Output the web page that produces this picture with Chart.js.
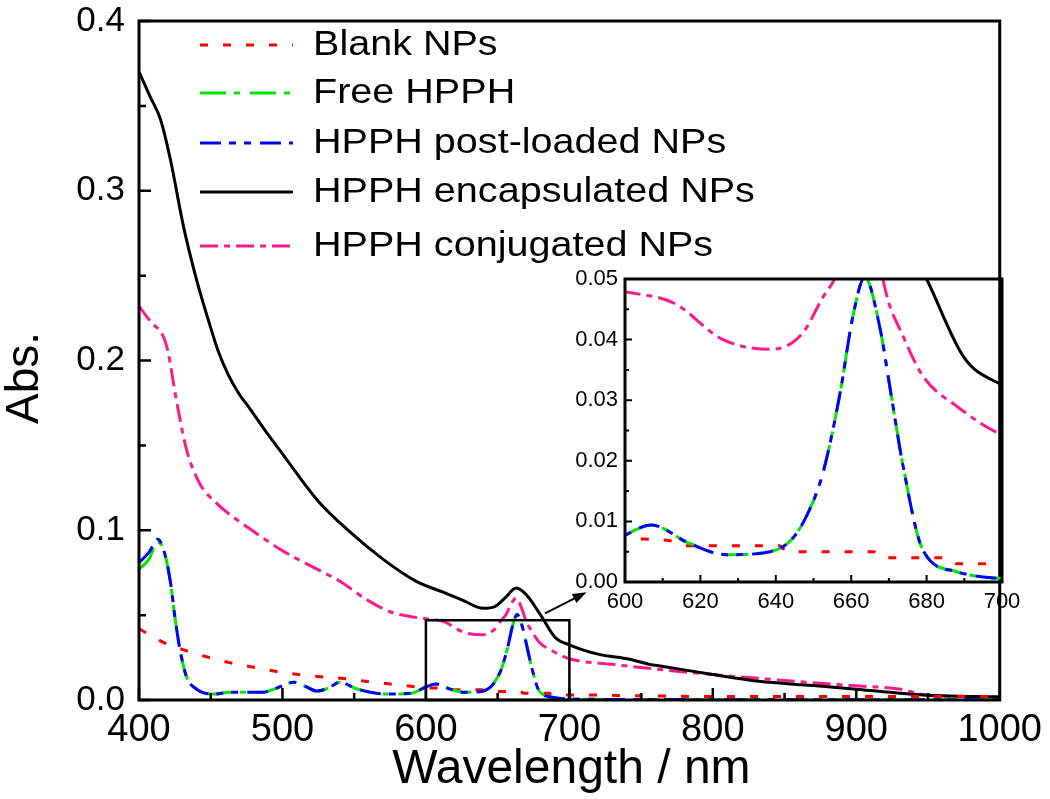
<!DOCTYPE html>
<html>
<head>
<meta charset="utf-8">
<script src="https://cdn.jsdelivr.net/npm/chart.js@4.4.0/dist/chart.umd.min.js"></script>
<style>
  body { margin: 0; background: #fff; }
  #wrap { position: relative; width: 1050px; height: 799px; }
  #mainChart { position: absolute; left: 0; top: 0; }
  #insetChart { position: absolute; left: 560px; top: 250px; }
</style>
</head>
<body>
<div id="wrap">
  <canvas id="mainChart" width="1050" height="799"></canvas>
  <canvas id="insetChart" width="490" height="380"></canvas>
</div>
<script>
// values (wavelength in nm, absorbance)
const blankX = [400, 417, 433, 449, 463, 482, 498, 514, 545, 563, 580, 600, 612, 616, 641, 643, 666, 668, 686, 688, 700, 750, 800, 900, 1000];
const blankY = [0.042, 0.034, 0.029, 0.025, 0.022, 0.019, 0.0165, 0.0147, 0.0124, 0.0105, 0.009, 0.0072, 0.0068, 0.006, 0.006, 0.005, 0.005, 0.004, 0.004, 0.003, 0.003, 0.0025, 0.002, 0.002, 0.002];

const hpphX = [400, 407, 413, 417, 422, 425, 428.5, 433, 440, 452, 463, 486, 496, 508, 516, 524, 532, 540, 552, 573, 590, 600, 607, 617, 627, 638.5, 644, 648, 652.5, 657, 660.5, 663.6, 667.6, 670.3, 673.8, 679, 688, 700, 750, 800, 900, 1000];
const freeY = [0.077, 0.083, 0.093, 0.089, 0.069, 0.049, 0.030, 0.014, 0.0065, 0.0035, 0.0045, 0.0045, 0.007, 0.0105, 0.008, 0.0053, 0.007, 0.0105, 0.0065, 0.0035, 0.004, 0.0077, 0.0094, 0.0064, 0.0045, 0.005, 0.0069, 0.0107, 0.018, 0.031, 0.044, 0.0503, 0.042, 0.032, 0.019, 0.0053, 0.0017, 0.0006, 0.0003, 0.0002, 0.0002, 0.0002];
const postY = [0.081, 0.087, 0.0947, 0.089, 0.069, 0.049, 0.030, 0.014, 0.0065, 0.0035, 0.0045, 0.0045, 0.007, 0.0105, 0.008, 0.0053, 0.007, 0.0105, 0.0065, 0.0035, 0.004, 0.0077, 0.0094, 0.0064, 0.0045, 0.005, 0.0069, 0.0107, 0.018, 0.031, 0.044, 0.0503, 0.042, 0.032, 0.019, 0.0053, 0.0017, 0.0006, 0.0003, 0.0002, 0.0002, 0.0002];

const encapX = [400, 408, 415, 422, 431, 440, 449, 455, 462, 470, 477, 489, 500, 524, 547, 570, 593, 612, 625, 640, 648, 655, 663, 670, 680, 690, 700, 720, 742, 756, 760, 800, 832, 870, 902, 930, 950, 1000];
const encapY = [0.370, 0.355, 0.342, 0.318, 0.279, 0.248, 0.222, 0.206, 0.192, 0.180, 0.172, 0.1575, 0.145, 0.118, 0.099, 0.083, 0.070, 0.0635, 0.059, 0.054, 0.055, 0.060, 0.066, 0.062, 0.050, 0.037, 0.0325, 0.027, 0.024, 0.021, 0.0205, 0.015, 0.011, 0.0085, 0.0062, 0.004, 0.0028, 0.0018];

const conjX = [400, 408, 417, 420, 426, 433, 442, 454, 477, 500, 522, 540, 559, 575, 590, 600, 613, 626, 639, 647, 652.5, 656, 659, 663, 667, 670, 673, 679, 688, 700, 730, 763, 800, 837, 870, 902, 930, 950, 1000];
const conjY = [0.232, 0.223, 0.214, 0.206, 0.177, 0.148, 0.128, 0.116, 0.101, 0.088, 0.078, 0.070, 0.059, 0.052, 0.049, 0.0479, 0.046, 0.040, 0.0384, 0.041, 0.047, 0.0505, 0.056, 0.060, 0.0535, 0.046, 0.0416, 0.034, 0.029, 0.0243, 0.021, 0.018, 0.015, 0.0124, 0.0101, 0.0082, 0.0065, 0.0028, 0.0018];

const seriesNames = ['Blank NPs', 'Free HPPH', 'HPPH post-loaded NPs', 'HPPH encapsulated NPs', 'HPPH conjugated NPs'];
const seriesColors = ['#ff0000', '#00e600', '#0000ff', '#000000', '#ff1a8c'];
const seriesDash = [[8, 15], [26, 8, 6, 10], [21, 8, 7, 8, 7, 9], [], [18, 6, 6, 6]];

const mainXTicks = [400, 500, 600, 700, 800, 900, 1000];
const mainYTicks = [0, 0.1, 0.2, 0.3, 0.4];
const insetXTicks = [600, 620, 640, 660, 680, 700];
const insetYTicks = [0, 0.01, 0.02, 0.03, 0.04, 0.05];

const FONT = '"Liberation Sans", Arial, sans-serif';

function points(xs, ys) {
    return xs.map((x, i) => ({ x: x, y: ys[i] }));
}

function makeDatasets() {
    const pairs = [[blankX, blankY], [hpphX, freeY], [hpphX, postY], [encapX, encapY], [conjX, conjY]];
    return pairs.map((p, i) => ({
        label: seriesNames[i],
        data: points(p[0], p[1]),
        borderColor: seriesColors[i],
        borderWidth: 3,
        borderDash: seriesDash[i],
        pointRadius: 0,
        fill: false,
        cubicInterpolationMode: 'monotone',
        order: i == 2 ? 0 : (i == 1 ? 1 : 2)
    }));
}

// box + inward ticks (major and minor) on left and bottom
const framePlugin = {
    id: 'frame',
    afterDraw(chart, args, opts) {
        const ctx = chart.ctx, a = chart.chartArea;
        const xs = chart.scales.x, ys = chart.scales.y;
        ctx.save();
        ctx.strokeStyle = '#000';
        ctx.lineWidth = opts.tickWidth;
        ctx.beginPath();
        let steps = Math.round((xs.max - xs.min) / opts.minorX);
        for (let k = 0; k <= steps; k++) {
            const px = xs.getPixelForValue(xs.min + k * opts.minorX);
            const len = k % 2 == 0 ? opts.major : opts.minor;
            ctx.moveTo(px, a.bottom);
            ctx.lineTo(px, a.bottom - len);
        }
        steps = Math.round((ys.max - ys.min) / opts.minorY);
        for (let k = 0; k <= steps; k++) {
            const py = ys.getPixelForValue(ys.min + k * opts.minorY);
            const len = k % 2 == 0 ? opts.major : opts.minor;
            ctx.moveTo(a.left, py);
            ctx.lineTo(a.left + len, py);
        }
        ctx.stroke();
        ctx.lineWidth = opts.border;
        ctx.strokeRect(a.left, a.top, a.right - a.left, a.bottom - a.top);
        ctx.restore();
    }
};

// legend, zoom box, arrow and axis titles of the main plot
const decorPlugin = {
    id: 'decor',
    afterDraw(chart) {
        const ctx = chart.ctx, a = chart.chartArea;
        const xs = chart.scales.x, ys = chart.scales.y;
        ctx.save();

        const rowY = [45, 93, 143, 192, 246];
        ctx.textBaseline = 'middle';
        ctx.textAlign = 'left';
        seriesNames.forEach((name, i) => {
            ctx.beginPath();
            ctx.setLineDash(seriesDash[i]);
            ctx.strokeStyle = seriesColors[i];
            ctx.lineWidth = 3;
            ctx.moveTo(200, rowY[i]);
            ctx.lineTo(293, rowY[i]);
            ctx.stroke();
            ctx.setLineDash([]);
            // the legend lettering in the figure is a little wide
            ctx.save();
            ctx.translate(313, rowY[i]);
            ctx.scale(1.13, 1);
            ctx.font = '35px ' + FONT;
            ctx.fillStyle = '#000';
            ctx.fillText(name, 0, 0);
            ctx.restore();
        });

        // box marking the zoomed region
        const x0 = xs.getPixelForValue(600), x1 = xs.getPixelForValue(700);
        const y0 = ys.getPixelForValue(0), y1 = ys.getPixelForValue(0.047);
        ctx.strokeStyle = '#000';
        ctx.lineWidth = 2.5;
        ctx.strokeRect(x0, y1, x1 - x0, y0 - y1);

        // arrow toward the inset
        const ax0 = xs.getPixelForValue(683), ay0 = ys.getPixelForValue(0.051);
        const ax1 = xs.getPixelForValue(712), ay1 = ys.getPixelForValue(0.0635);
        const ang = Math.atan2(ay1 - ay0, ax1 - ax0);
        ctx.lineWidth = 2;
        ctx.beginPath();
        ctx.moveTo(ax0, ay0);
        ctx.lineTo(ax1 - 8 * Math.cos(ang), ay1 - 8 * Math.sin(ang));
        ctx.stroke();
        ctx.fillStyle = '#000';
        ctx.beginPath();
        ctx.moveTo(ax1, ay1);
        ctx.lineTo(ax1 - 14 * Math.cos(ang) + 5 * Math.sin(ang), ay1 - 14 * Math.sin(ang) - 5 * Math.cos(ang));
        ctx.lineTo(ax1 - 14 * Math.cos(ang) - 5 * Math.sin(ang), ay1 - 14 * Math.sin(ang) + 5 * Math.cos(ang));
        ctx.closePath();
        ctx.fill();

        // axis titles
        ctx.fillStyle = '#000';
        ctx.textBaseline = 'alphabetic';
        ctx.textAlign = 'center';
        ctx.font = '48px ' + FONT;
        ctx.fillText('Wavelength / nm', (a.left + a.right) / 2 + 2, 783);
        ctx.translate(38, 378);
        ctx.rotate(-Math.PI / 2);
        ctx.font = '46px ' + FONT;
        ctx.fillText('Abs.', 0, 0);
        ctx.restore();
    }
};

function axisX(min, max, ticks, size, pad, height, digits) {
    return {
        type: 'linear', min: min, max: max,
        afterBuildTicks: scale => { scale.ticks = ticks.map(v => ({ value: v })); },
        afterFit: scale => { scale.height = height; },
        grid: { display: false, drawTicks: false },
        border: { display: false },
        ticks: {
            color: '#000', padding: pad, maxRotation: 0, autoSkip: false,
            font: { family: FONT, size: size },
            callback: v => v.toFixed(digits)
        }
    };
}

function axisY(min, max, ticks, size, pad, width, digits) {
    return {
        type: 'linear', min: min, max: max,
        afterBuildTicks: scale => { scale.ticks = ticks.map(v => ({ value: v })); },
        afterFit: scale => { scale.width = width; },
        grid: { display: false, drawTicks: false },
        border: { display: false },
        ticks: {
            color: '#000', padding: pad, autoSkip: false,
            font: { family: FONT, size: size, lineHeight: 0.2 },
            callback: v => v.toFixed(digits)
        }
    };
}

new Chart(document.getElementById('mainChart').getContext('2d'), {
    type: 'line',
    data: { datasets: makeDatasets() },
    options: {
        responsive: false,
        animation: false,
        layout: { padding: { left: 0, top: 21, right: 49, bottom: 0 } },
        scales: {
            x: axisX(400, 1000, mainXTicks, 38, 8, 99, 0),
            y: axisY(0, 0.4, mainYTicks, 35, 14, 139, 1)
        },
        plugins: {
            legend: { display: false },
            tooltip: { enabled: false },
            frame: { minorX: 50, minorY: 0.05, major: 12, minor: 7, tickWidth: 2.5, border: 3 }
        }
    },
    plugins: [framePlugin, decorPlugin]
});

new Chart(document.getElementById('insetChart').getContext('2d'), {
    type: 'line',
    data: { datasets: makeDatasets() },
    options: {
        responsive: false,
        animation: false,
        layout: { padding: { left: 0, top: 29, right: 48, bottom: 0 } },
        scales: {
            x: axisX(600, 700, insetXTicks, 22, 7, 48, 0),
            y: axisY(0, 0.05, insetYTicks, 22, 7, 65, 2)
        },
        plugins: {
            legend: { display: false },
            tooltip: { enabled: false },
            frame: { minorX: 10, minorY: 0.005, major: 7, minor: 4, tickWidth: 2, border: 3 }
        }
    },
    plugins: [framePlugin]
});
</script>
</body>
</html>
